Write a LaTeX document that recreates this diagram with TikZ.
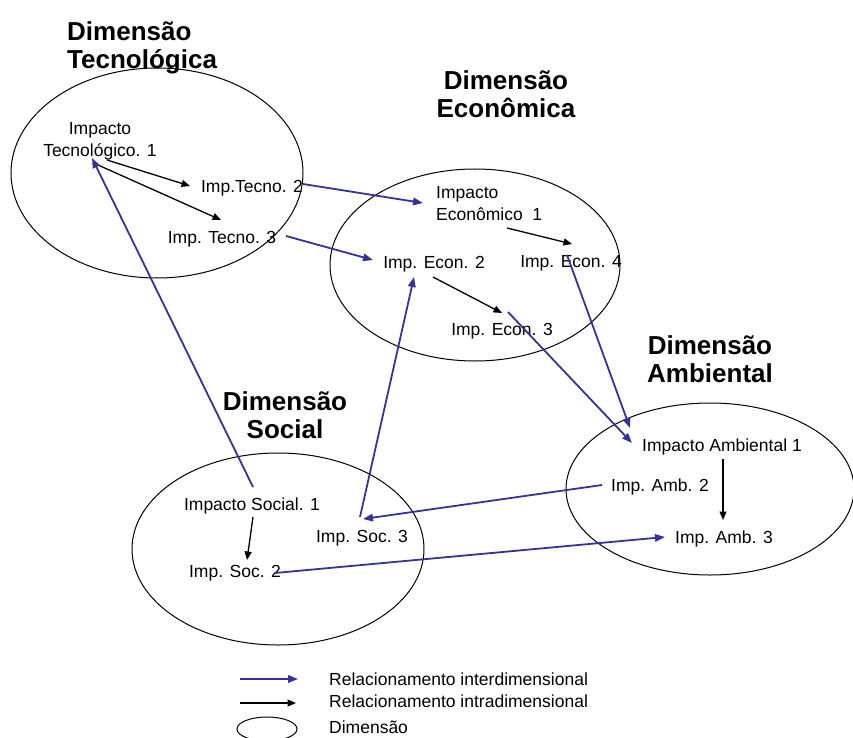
\documentclass[tikz,border=0pt]{standalone}
\usepackage{fontspec}
\setmainfont{Liberation Sans}
\usetikzlibrary{arrows.meta,shapes.geometric,calc}
\definecolor{interblue}{RGB}{51,51,153}
\begin{document}
\begin{tikzpicture}[x=1pt,y=-1pt,
  dimension/.style={draw,ellipse,line width=1pt,inner sep=0pt},
  dimtitle/.style={font=\fontsize{26}{28}\selectfont\bfseries,inner sep=0pt,align=center},
  impact/.style={font=\fontsize{17.5}{22}\selectfont,inner sep=0pt,anchor=base},
  inter/.style={draw=interblue,line width=1.8pt,-{Triangle[length=10pt,width=7.5pt]},fill=interblue},
  intra/.style={draw=black,line width=1.3pt,-{Triangle[length=8.5pt,width=7pt]}},
  legendtext/.style={font=\fontsize{17.5}{22}\selectfont,inner sep=0pt,anchor=base west}]
\useasboundingbox (0,0) rectangle (853,738);

% the four dimensions
\node[dimension,minimum width=292pt,minimum height=210pt] (dTec) at (157,173) {};
\node[dimension,minimum width=290pt,minimum height=192pt] (dEco) at (475,265) {};
\node[dimension,minimum width=288pt,minimum height=172pt] (dAmb) at (710,489) {};
\node[dimension,minimum width=292pt,minimum height=192pt] (dSoc) at (278,549) {};

% dimension titles (placed by the baseline of their last line)
\node[dimtitle,align=left,anchor=base west] (tTec) at (67,69) {Dimensão\\Tecnológica};
\node[dimtitle,anchor=base] (tEco) at (506,118) {Dimensão\\Econômica};
\node[dimtitle,anchor=base] (tAmb) at (710,382) {Dimensão\\Ambiental};
\node[dimtitle,anchor=base] (tSoc) at (285,438) {Dimensão\\Social};

% impacts
\node[impact,align=center] (tec1) at (100,157) {Impacto\\Tecnológico. 1};
\node[impact] (tec2) at (252,193) {Imp.Tecno. 2};
\node[impact] (tec3) at (222,243) {Imp. Tecno. 3};
\node[impact,align=left,anchor=base west] (eco1) at (436,220) {Impacto\\Econômico\ \ 1};
\node[impact] (eco2) at (434,268) {Imp. Econ. 2};
\node[impact] (eco3) at (502,335) {Imp. Econ. 3};
\node[impact] (eco4) at (571,267) {Imp. Econ. 4};
\node[impact] (amb1) at (722,451) {Impacto Ambiental 1};
\node[impact] (amb2) at (660,491) {Imp. Amb. 2};
\node[impact] (amb3) at (724,543) {Imp. Amb. 3};
\node[impact] (soc1) at (252,510) {Impacto Social. 1};
\node[impact] (soc2) at (235,577) {Imp. Soc. 2};
\node[impact] (soc3) at (362,542) {Imp. Soc. 3};

% relations inside a dimension
\draw[intra] ($(tec1.base)+(7,3)$) -- ($(tec2.base)+(-62,-7)$);
\draw[intra] ($(tec1.base)+(-2,8)$) -- ($(tec3.base)+(-1,-23)$);
\draw[intra] ($(eco1.base west)+(71,8)$) -- ($(eco4.base)+(1,-23)$);
\draw[intra] ($(eco2.base)+(-1,9)$) -- ($(eco3.base)+(0,-22)$);
\draw[intra] ($(amb1.base)+(1,8)$) -- ($(amb3.base)+(-1,-23)$);
\draw[intra] ($(soc1.base)+(1,7)$) -- ($(soc2.base)+(12,-17)$);

% relations between dimensions
\draw[inter] ($(tec2.base)+(51,-9)$) -- ($(eco1.base west)+(-13,-17)$);
\draw[inter] ($(tec3.base)+(64,-7)$) -- ($(eco2.base)+(-61,-8)$);
\draw[inter] ($(soc1.base)+(1,-23)$) -- ($(tec1.base)+(-8,1)$);
\draw[inter] ($(soc3.base)+(-2,-25)$) -- ($(eco2.base)+(-20,9)$);
\draw[inter] ($(eco3.base)+(6,-23)$) -- ($(amb1.base)+(-90,-8)$);
\draw[inter] ($(eco4.base)+(-4,-12)$) -- ($(amb1.base)+(-92,-23)$);
\draw[inter] ($(amb2.base)+(-58,-6)$) -- ($(soc3.base)+(1,-23)$);
\draw[inter] ($(soc2.base)+(40,-4)$) -- ($(amb3.base)+(-59,-6)$);

% legend
\coordinate (lInterA) at (240,679);
\coordinate (lInterB) at (298,679);
\coordinate (lIntraA) at (240,703);
\coordinate (lIntraB) at (296,703);
\draw[inter] (lInterA) -- (lInterB);
\draw[intra] (lIntraA) -- (lIntraB);
\node[dimension,minimum width=60pt,minimum height=24pt] (lDim) at (267,729) {};
\node[legendtext] (lInterT) at (329,685) {Relacionamento interdimensional};
\node[legendtext] (lIntraT) at (329,707) {Relacionamento intradimensional};
\node[legendtext] (lDimT) at (329,733) {Dimensão};
\end{tikzpicture}
\end{document}
